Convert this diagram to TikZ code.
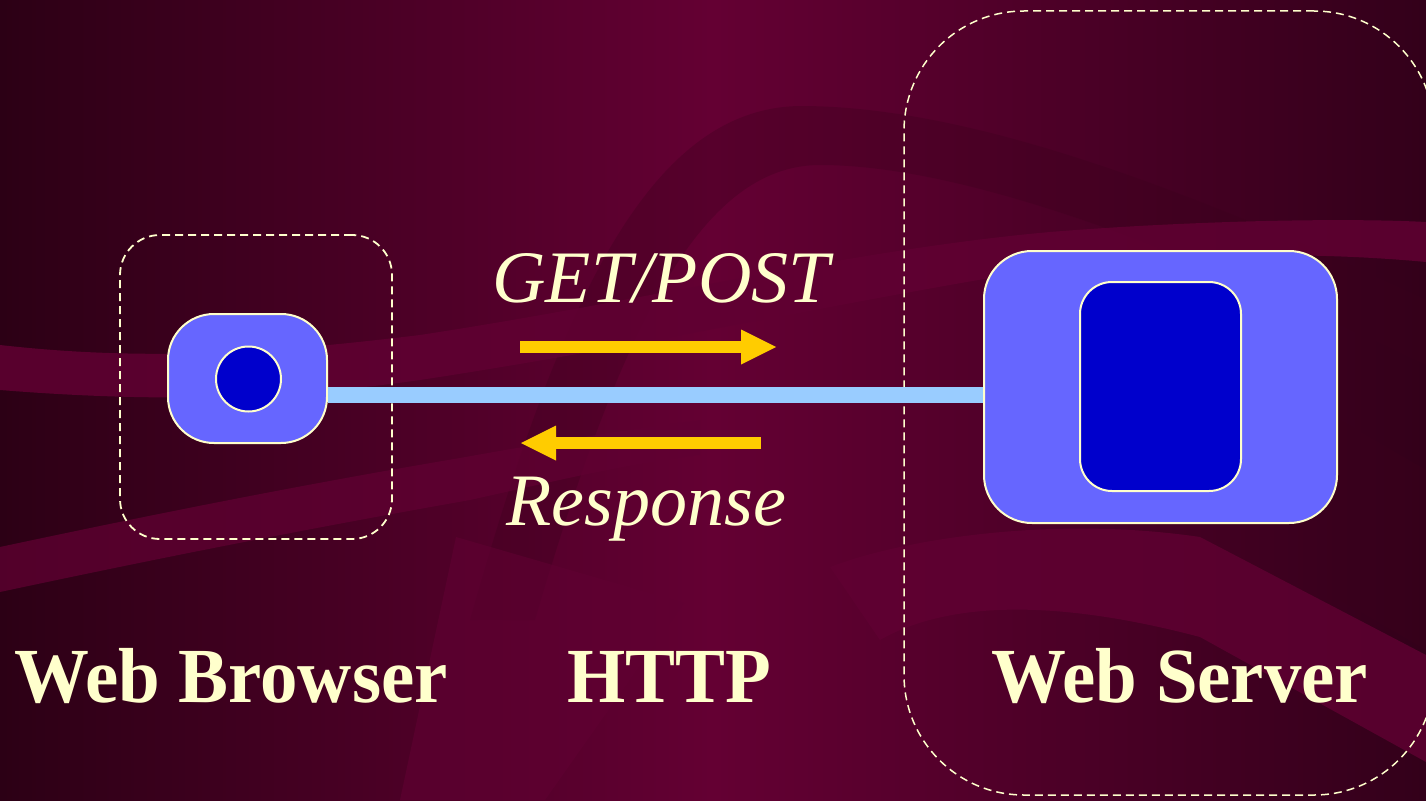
\documentclass[tikz,border=0pt]{standalone}
\usepackage{fontspec}
\setmainfont{Liberation Serif}
\newfontfamily\capfont{Liberation Serif}[FakeStretch=0.96]
\usetikzlibrary{arrows.meta}

\definecolor{cream}{HTML}{FFFFCC}
\definecolor{boxblue}{HTML}{6666FF}
\definecolor{coreblue}{HTML}{0000CC}
\definecolor{linkblue}{HTML}{99CCFF}
\definecolor{gold}{HTML}{FFCC00}
\definecolor{bgleft}{HTML}{2C0015}
\definecolor{bgmid}{HTML}{640033}
\definecolor{bgright}{HTML}{33001A}
\definecolor{ribbon}{HTML}{600032}
\definecolor{shadow}{HTML}{3A001C}

\tikzset{
  zone/.style={draw=cream, line width=1.8pt, dash pattern=on 8pt off 5pt,
    rounded corners=#1, inner sep=0pt},
  machine/.style={draw=cream, line width=2pt, fill=boxblue,
    rounded corners=#1, inner sep=0pt},
  core/.style={draw=cream, line width=2pt, fill=coreblue, inner sep=0pt},
  link/.style={draw=linkblue, line width=16pt},
  flow/.style={draw=gold, line width=12pt,
    -{Triangle[length=35pt,width=35pt,line width=0pt]}},
  verb/.style={text=cream, font=\fontsize{74}{80}\selectfont\itshape,
    inner sep=0pt, anchor=base},
  title/.style={text=cream, font=\capfont\fontsize{78}{84}\selectfont\bfseries,
    inner sep=0pt, anchor=base},
}

\begin{document}
\begin{tikzpicture}[x=1pt, y=-1pt]
\useasboundingbox (0,0) rectangle (1426,800);

% backdrop: horizontal shading with sweeping ribbons
\fill[left color=bgleft, right color=bgright, middle color=bgmid]
  (0,0) rectangle (1426,800);
\fill[shadow, opacity=0.3]
  (470,620) .. controls (560,300) and (650,108) .. (800,106)
  .. controls (950,106) and (1150,170) .. (1426,300) -- (1426,365)
  .. controls (1150,232) and (950,165) .. (820,165)
  .. controls (700,165) and (620,330) .. (535,620) -- cycle;
\fill[ribbon, opacity=0.85]
  (0,345) .. controls (150,362) and (280,352) .. (420,335)
  .. controls (650,300) and (850,250) .. (1050,232)
  .. controls (1200,220) and (1350,218) .. (1426,222) -- (1426,262)
  .. controls (1300,250) and (1150,255) .. (1050,268)
  .. controls (850,300) and (650,345) .. (420,380)
  .. controls (280,400) and (150,402) .. (0,390) -- cycle;
\fill[ribbon, opacity=0.75]
  (0,547) .. controls (150,515) and (300,485) .. (460,458)
  .. controls (560,440) and (640,428) .. (700,420) -- (700,455)
  .. controls (620,465) and (560,480) .. (470,500)
  .. controls (300,530) and (150,560) .. (0,592) -- cycle;
\fill[ribbon, opacity=0.6]
  (456,537) -- (684,603) -- (545,800) -- (400,800) -- cycle;
\fill[ribbon, opacity=0.8]
  (830,567) .. controls (900,540) and (1050,515) .. (1200,537)
  -- (1426,655) -- (1426,762) -- (1200,637)
  .. controls (1060,600) and (950,600) .. (880,640) -- cycle;
\fill[shadow, opacity=0.4]
  (1340,420) -- (1426,470) -- (1426,650) -- (1340,600) -- cycle;

% browser side
\node[zone=40pt, minimum width=272pt, minimum height=304pt]
  (browserzone) at (256,387) {};
\node[machine=46pt, minimum width=159pt, minimum height=129pt]
  (browser) at (247.5,378.5) {};
\node[core, circle, minimum size=65pt] (bcore) at (248.5,379) {};

% server side
\node[zone=120pt, minimum width=530pt, minimum height=784pt,
      line width=1.5pt] (serverzone) at (1169,403) {};
\node[machine=48pt, minimum width=353pt, minimum height=272pt]
  (server) at (1160.5,387) {};
\node[core, rounded corners=32pt, minimum width=161pt, minimum height=209pt]
  (score) at (1160.5,386.5) {};

% HTTP link between the two machines
\coordinate (linky) at (0,395);
\draw[link] (browser.east |- linky) -- (server.west |- linky);

% request and response flows
\coordinate (reqfrom) at (520,347);
\coordinate (reqto) at (776,347);
\coordinate (respfrom) at (761,443);
\coordinate (respto) at (521,443);
\draw[flow] (reqfrom) -- (reqto);
\draw[flow] (respfrom) -- (respto);

\node[verb] (get) at (661,302) {GET/POST};
\node[verb] (resp) at (646.5,525) {Response};

% captions
\node[title] (lbrowser) at (231,702) {Web Browser};
\node[title] (lhttp) at (669,702) {HTTP};
\node[title] (lserver) at (1180,702) {Web Server};
\end{tikzpicture}
\end{document}
